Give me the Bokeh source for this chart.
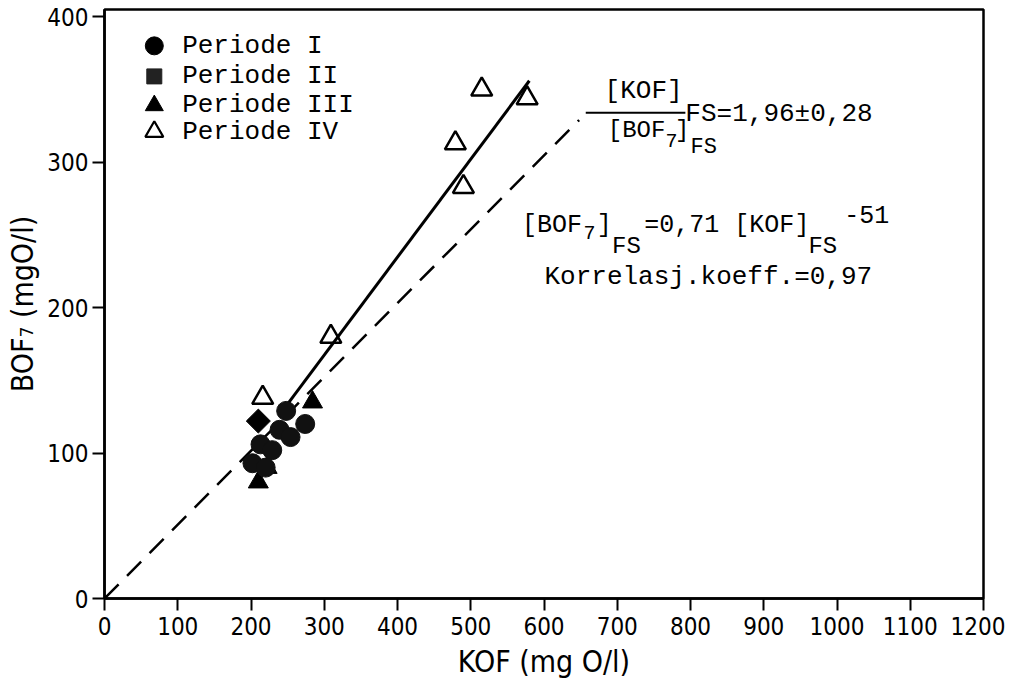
import math
from bokeh.plotting import figure
from bokeh.models import Range1d, FixedTicker
from bokeh.core.properties import value
from bokeh.embed import file_html
from bokeh.resources import INLINE

# ---------------- data ----------------
x_ticks = [0, 100, 200, 300, 400, 500, 600, 700, 800, 900, 1000, 1100, 1200]
y_ticks = [0, 100, 200, 300, 400]

p1_kof = [248, 274, 239, 254, 213, 229, 202, 220]      # Periode I  (filled circles)
p1_bof = [129, 120, 116, 111, 106, 102, 93, 90]
p2_kof = [210]                                          # Periode II (filled squares)
p2_bof = [122]
p3_kof = [284, 222, 210]                                # Periode III (filled triangles)
p3_bof = [135, 90, 80]
p4_kof = [216, 309, 479, 490, 515, 577]                 # Periode IV (open triangles)
p4_bof = [138, 180, 313, 283, 350, 344]

fit_kof = [243, 580]        # regression line [BOF7] = 0,71 [KOF] - 51
fit_bof = [129, 356]
ratio_kof = [0, 648]        # ratio line KOF/BOF7 = 1,96
ratio_bof = [0, 329]

legend_labels = ["Periode I", "Periode II", "Periode III", "Periode IV"]

# ---------------- figure ----------------
MONO = "'Liberation Mono', 'Courier New', monospace"
SANS = "'Liberation Sans Narrow', 'DejaVu Sans Condensed', 'Roboto', sans-serif"

p = figure(width=1005, height=685, x_range=Range1d(0, 1200), y_range=Range1d(0, 405),
           output_backend="svg", toolbar_location=None,
           min_border_left=104, min_border_right=22, min_border_top=9, min_border_bottom=87)
p.background_fill_color = "white"
p.border_fill_color = "white"
p.outline_line_color = "black"
p.outline_line_width = 2.5
p.xgrid.visible = False
p.ygrid.visible = False

for ax in (p.xaxis[0], p.yaxis[0]):
    ax.axis_line_color = "black"
    ax.axis_line_width = 2.5
    ax.major_tick_line_color = "black"
    ax.major_tick_line_width = 2
    ax.major_tick_out = 12
    ax.major_tick_in = 0
    ax.minor_tick_line_color = None
    ax.major_label_text_font = SANS
    ax.major_label_text_font_size = "24px"
    ax.major_label_text_color = "black"
    ax.axis_label_text_font = SANS
    ax.axis_label_text_font_size = "30px"
    ax.axis_label_text_font_style = "normal"
    ax.axis_label_text_color = "black"

p.xaxis.ticker = FixedTicker(ticks=x_ticks)
p.yaxis.ticker = FixedTicker(ticks=y_ticks)
p.xaxis.axis_label = "KOF (mg O/l)"
p.yaxis.axis_label = "BOF\u2087 (mgO/l)"
p.xaxis.major_label_standoff = 6
p.yaxis.major_label_standoff = 4
p.xaxis.axis_label_standoff = 6
p.yaxis.axis_label_standoff = 4

# ---------------- lines ----------------
p.line(ratio_kof, ratio_bof, line_color="black", line_width=2.5, line_dash="20 12")
p.line(fit_kof, fit_bof, line_color="black", line_width=3)

# ---------------- points ----------------
p.scatter(p4_kof, p4_bof, marker="triangle", size=21, fill_color="white",
          fill_alpha=0.0, line_color="black", line_width=2.5)
p.scatter(p3_kof, p3_bof, marker="triangle", size=20, fill_color="black", line_color="black")
p.scatter(p1_kof, p1_bof, marker="circle", size=19, fill_color="#111111", line_color="#111111")
p.scatter(p2_kof, p2_bof, marker="square", size=17, angle=math.pi / 4,
          fill_color="black", line_color="black")

# ---------------- legend (drawn by hand) ----------------
leg_x = 68
leg_tx = 106
leg_y = [380, 359, 339, 321]
p.scatter([leg_x], [leg_y[0]], marker="circle", size=18, fill_color="black", line_color="black")
p.scatter([leg_x], [leg_y[1]], marker="square", size=15, fill_color="#222222", line_color="#222222")
p.scatter([leg_x], [leg_y[2]], marker="triangle", size=18, fill_color="black", line_color="black")
p.scatter([leg_x], [leg_y[3]], marker="triangle", size=18, fill_color="white",
          line_color="black", line_width=2.2)
p.text(x=[leg_tx] * 4, y=leg_y, text=legend_labels, text_font=value(MONO),
       text_font_size="26px", text_align="left", text_baseline="middle", text_color="black")

# ---------------- annotations ----------------
def txt(x, y, s, size="26px", align="left"):
    p.text(x=[x], y=[y], text=[s], text_font=value(MONO), text_font_size=size,
           text_align=align, text_baseline="middle", text_color="black")

# fraction  [KOF]/[BOF7] FS = 1,96 ± 0,28
txt(736, 349, "[KOF]", align="center")
p.segment(x0=[657], y0=[334], x1=[793], y1=[334], line_color="black", line_width=2)
txt(687, 322, "[BOF", size="24px")
txt(766, 315, "7", size="20px")
txt(779, 322, "]", size="24px")
txt(793, 333, "FS=1,96\u00b10,28")
txt(800, 310, "FS", size="22px")

# regression equation
txt(570, 256.5, "[BOF", size="25px")
txt(654, 251.5, "7", size="20px")
txt(672, 256.5, "]", size="25px")
txt(693, 242, "FS", size="24px")
txt(737, 256.5, "=0,71 [KOF]", size="25px")
txt(961, 242, "FS", size="24px")
txt(1010, 264, "-51", size="25px")

txt(1048, 221, "Korrelasj.koeff.=0,97", align="right")

open("out.html", "w").write(file_html(p, INLINE))
